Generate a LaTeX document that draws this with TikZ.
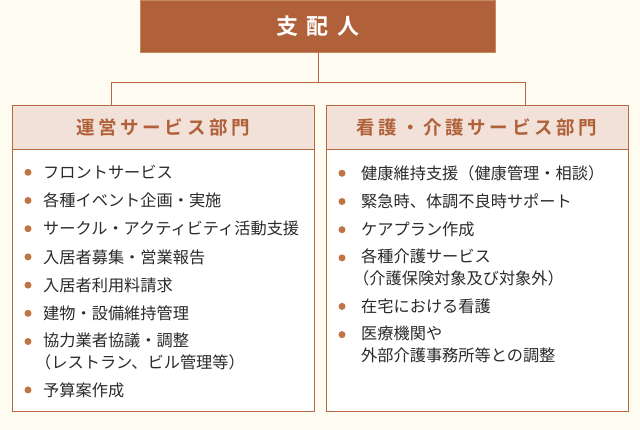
\documentclass[tikz,border=0pt]{standalone}
\usepackage{fontspec}
\usepackage{xcolor}
\usetikzlibrary{positioning}
\setmainfont{Noto Sans CJK JP}
\newfontfamily\bossfont[LetterSpace=40]{Noto Sans CJK JP Bold}
\newfontfamily\headfont[LetterSpace=20]{Noto Sans CJK JP Bold}
\definecolor{bg}{HTML}{FEFBF1}
\definecolor{rust}{HTML}{B06139}
\definecolor{edge}{HTML}{B8693F}
\definecolor{pale}{HTML}{F1E1D8}
\definecolor{ink}{HTML}{2B2B2B}
\definecolor{dotc}{HTML}{C07343}
\tikzset{%
	boss/.style   = {draw=edge!80!white, fill=rust, text=white, minimum width=355pt, minimum height=52pt, inner sep=0pt, font=\bossfont\fontsize{22}{22}\selectfont},
	head/.style   = {draw=edge, fill=pale, text=rust, minimum width=302pt, minimum height=44pt, inner sep=0pt, font=\headfont\fontsize{18.5}{18.5}\selectfont},
	panel/.style  = {draw=edge, fill=white, minimum width=302pt, minimum height=262pt, inner sep=0pt},
	entry/.style  = {inner sep=0pt, align=left, text=ink, anchor=north west, font=\fontsize{16.2}{22}\selectfont, execute at begin node=\strut, execute at end node=\strut},
	dot/.style    = {circle, fill=dotc, minimum size=7pt, inner sep=0pt},
	link/.style   = {draw=edge, line width=1pt},
}

\begin{document}
\begin{tikzpicture}[x=1pt,y=-1pt]
	\fill[bg] (0,0) rectangle (640,430);
	\useasboundingbox (0,0) rectangle (640,430);
	
	\node [boss] (boss) at (318,26) {支配人};
	\node [head] (opshead) at (163,127) {運営サービス部門};
	\node [head] (carehead) at (477,127) {看護・介護サービス部門};
	\node [panel] (opspanel) [below=0pt of opshead] {};
	\node [panel] (carepanel) [below=0pt of carehead] {};
	\coordinate (opsdrop) at ([xshift=-52pt]opshead.north);
	\coordinate (caredrop) at ([xshift=48pt]carehead.north);
	
	\draw[link] (boss.south) -- ++(0,30) -| (opsdrop);
	\draw[link] (boss.south) -- ++(0,30) -| (caredrop);
	
	% operations
	\node [entry] (o1) at (43,163) {フロントサービス};
	\node [entry] (o2) [below=5.8pt of o1.south west, anchor=north west] {各種イベント企画・実施};
	\node [entry] (o3) [below=5.8pt of o2.south west, anchor=north west] {サークル・アクティビティ活動支援};
	\node [entry] (o4) [below=5.8pt of o3.south west, anchor=north west] {入居者募集・営業報告};
	\node [entry] (o5) [below=5.8pt of o4.south west, anchor=north west] {入居者利用料請求};
	\node [entry] (o6) [below=5.8pt of o5.south west, anchor=north west] {建物・設備維持管理};
	\node [entry] (o7) [below=5.8pt of o6.south west, anchor=north west] {協力業者協議・調整\\\hspace*{-8pt}（レストラン、ビル管理等）};
	\node [entry] (o8) [below=5.8pt of o7.south west, anchor=north west] {予算案作成};
	\node [dot] (od1) at ([xshift=-15pt,yshift=-9.3pt]o1.north west) {};
	\node [dot] (od2) at ([xshift=-15pt,yshift=-9.3pt]o2.north west) {};
	\node [dot] (od3) at ([xshift=-15pt,yshift=-9.3pt]o3.north west) {};
	\node [dot] (od4) at ([xshift=-15pt,yshift=-9.3pt]o4.north west) {};
	\node [dot] (od5) at ([xshift=-15pt,yshift=-9.3pt]o5.north west) {};
	\node [dot] (od6) at ([xshift=-15pt,yshift=-9.3pt]o6.north west) {};
	\node [dot] (od7) at ([xshift=-15pt,yshift=-9.3pt]o7.north west) {};
	\node [dot] (od8) at ([xshift=-15pt,yshift=-9.3pt]o8.north west) {};
	
	% care
	\node [entry] (c1) at (361,164) {健康維持支援（健康管理・相談）};
	\node [entry] (c2) [below=5.8pt of c1.south west, anchor=north west] {緊急時、体調不良時サポート};
	\node [entry] (c3) [below=5.8pt of c2.south west, anchor=north west] {ケアプラン作成};
	\node [entry] (c4) [below=5.8pt of c3.south west, anchor=north west] {各種介護サービス\\\hspace*{-8pt}（介護保険対象及び対象外）};
	\node [entry] (c5) [below=5.8pt of c4.south west, anchor=north west] {在宅における看護};
	\node [entry] (c6) [below=5.8pt of c5.south west, anchor=north west] {医療機関や\\外部介護事務所等との調整};
	\node [dot] (cd1) at ([xshift=-19pt,yshift=-9.3pt]c1.north west) {};
	\node [dot] (cd2) at ([xshift=-19pt,yshift=-9.3pt]c2.north west) {};
	\node [dot] (cd3) at ([xshift=-19pt,yshift=-9.3pt]c3.north west) {};
	\node [dot] (cd4) at ([xshift=-19pt,yshift=-9.3pt]c4.north west) {};
	\node [dot] (cd5) at ([xshift=-19pt,yshift=-9.3pt]c5.north west) {};
	\node [dot] (cd6) at ([xshift=-19pt,yshift=-9.3pt]c6.north west) {};
	
\end{tikzpicture}
\end{document}
